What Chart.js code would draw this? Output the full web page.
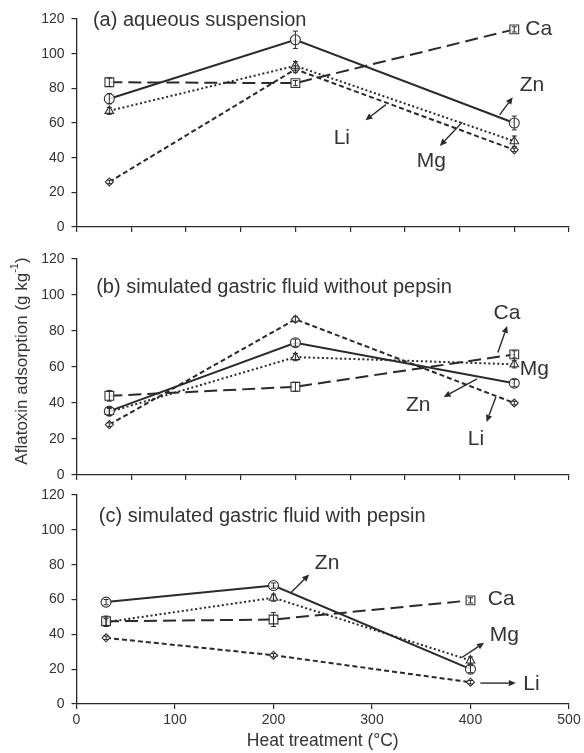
<!DOCTYPE html>
<html><head><meta charset="utf-8">
<script src="https://cdn.jsdelivr.net/npm/chart.js@4.4.1/dist/chart.umd.min.js"></script>
<style>
html,body{margin:0;padding:0;background:#fff;}
#wrap{position:relative;width:584px;height:753px;background:#fff;}
canvas{position:absolute;left:0;}
</style></head><body>
<div id="wrap">
<canvas id="ca" width="584" height="235" style="top:0px"></canvas>
<canvas id="cb" width="584" height="250" style="top:235px"></canvas>
<canvas id="cc" width="584" height="268" style="top:485px"></canvas>
</div>
<script>
// ---------------- DATA ----------------
const temps = [30, 200, 400];
const yTicks = [0, 20, 40, 60, 80, 100, 120];
const xTicksC = [0, 100, 200, 300, 400, 500];
// (a) aqueous suspension
const caA = [83.5, 83, 114];
const znA = [74, 108, 60];
const mgA = [67, 93, 49.5];
const liA = [26, 91, 44.5];
const caAerr = [2.5, 1.5, 1.5];
const znAerr = [3, 5, 4];
const mgAerr = [2, 2.5, 3];
const liAerr = [1, 2, 1];
// (b) simulated gastric fluid without pepsin
const caB = [44, 49, 67];
const znB = [35.5, 73.5, 51];
const mgB = [35, 65.5, 61.5];
const liB = [28, 86.5, 40];
const caBerr = [3, 2.5, 2];
const znBerr = [2, 2, 2];
const mgBerr = [2, 2, 2];
const liBerr = [1, 1.5, 1];
// (c) simulated gastric fluid with pepsin
const caC = [47.5, 48.5, 59.5];
const znC = [58.5, 68, 20];
const mgC = [47, 61, 25];
const liC = [38, 28, 12.5];
const caCerr = [3, 4, 1.5];
const znCerr = [1.5, 1.5, 2];
const mgCerr = [2, 2, 2];
const liCerr = [1, 1, 1];

const panelTitles = ['(a) aqueous suspension', '(b) simulated gastric fluid without pepsin', '(c) simulated gastric fluid with pepsin'];
const yAxisTitle = 'Aflatoxin adsorption (g kg';
const yAxisSup = '-1';
const xAxisTitle = 'Heat treatment (\u00B0C)';

// ---------------- ANNOTATION PLACEMENT (data coords) ----------------
const notesA = [
  {t:'Ca', x:410, y:114.3}, {t:'Zn', x:405, y:82}, {t:'Li', x:235, y:51.5}, {t:'Mg', x:311, y:38}
];
const arrowsA = [[386.6,64.7,398.6,74.9],[282.7,70.6,264,61.6],[352.6,60.5,332,46.8]];
const notesB = [
  {t:'Ca', x:381, y:90}, {t:'Mg', x:405, y:59}, {t:'Zn', x:301, y:38.5}, {t:'Li', x:357.5, y:19.8}
];
const arrowsB = [[385,68,393.5,82.8],[366,53.4,335.5,43.3],[383.2,43.3,374.7,29.5]];
const notesC = [
  {t:'Zn', x:242, y:81}, {t:'Ca', x:417.5, y:60}, {t:'Mg', x:419.5, y:39.6}, {t:'Li', x:453.5, y:11.4}
];
const arrowsC = [[217.3,63.8,236.2,74.3],[391.2,26.7,413.8,35.2],[410,12,446,12]];

// ---------------- STYLE ----------------
const FONT = '"Liberation Sans", Arial, Helvetica, sans-serif';
const INK = '#2a2a2a';
const TXT = '#333333';
const seriesStyle = {
  Ca: {dash:[13,6], pt:'rect', r:6.2},
  Zn: {dash:[], pt:'circle', r:5},
  Mg: {dash:[2,2.5], pt:'triangle', r:5},
  Li: {dash:[5,3], pt:'rectRot', r:4}
};

function arrow(ctx, x1, y1, x2, y2) {
  ctx.save();
  ctx.strokeStyle = INK; ctx.fillStyle = INK; ctx.lineWidth = 1.4; ctx.setLineDash([]);
  const a = Math.atan2(y2 - y1, x2 - x1);
  const L = 7, W = 3.2;
  const bx = x2 - L * Math.cos(a), by = y2 - L * Math.sin(a);
  ctx.beginPath(); ctx.moveTo(x1, y1); ctx.lineTo(bx, by); ctx.stroke();
  ctx.beginPath();
  ctx.moveTo(x2, y2);
  ctx.lineTo(bx + W * Math.sin(a), by - W * Math.cos(a));
  ctx.lineTo(bx - W * Math.sin(a), by + W * Math.cos(a));
  ctx.closePath(); ctx.fill();
  ctx.restore();
}

const overlay = {
  id: 'overlay',
  afterDatasetsDraw(chart, args, o) {
    const ctx = chart.ctx, xs = chart.scales.x, ys = chart.scales.y;
    // error bars
    ctx.save();
    ctx.strokeStyle = INK; ctx.lineWidth = 1; ctx.setLineDash([]);
    o.errs.forEach((err, si) => {
      err.forEach((e, i) => {
        const v = chart.data.datasets[si].data[i];
        const px = xs.getPixelForValue(v.x);
        const t = ys.getPixelForValue(v.y + e), b = ys.getPixelForValue(v.y - e);
        ctx.beginPath();
        ctx.moveTo(px, t); ctx.lineTo(px, b);
        ctx.moveTo(px - 2.5, t); ctx.lineTo(px + 2.5, t);
        ctx.moveTo(px - 2.5, b); ctx.lineTo(px + 2.5, b);
        ctx.stroke();
      });
    });
    ctx.restore();
    // panel title
    ctx.save();
    ctx.fillStyle = TXT; ctx.textBaseline = 'middle'; ctx.textAlign = 'left';
    ctx.font = '20px ' + FONT;
    ctx.fillText(o.title, xs.getPixelForValue(o.titleX), ys.getPixelForValue(o.titleY));
    // labels
    ctx.font = '21px ' + FONT;
    o.notes.forEach(n => ctx.fillText(n.t, xs.getPixelForValue(n.x), ys.getPixelForValue(n.y)));
    ctx.restore();
    o.arrows.forEach(a => arrow(ctx, xs.getPixelForValue(a[0]), ys.getPixelForValue(a[1]), xs.getPixelForValue(a[2]), ys.getPixelForValue(a[3])));
    // y axis title (panel b only)
    if (o.yTitle) {
      ctx.save();
      ctx.fillStyle = TXT;
      ctx.translate(22, o.yTitleCenter);
      ctx.rotate(-Math.PI / 2);
      ctx.font = '17px ' + FONT;
      const w1 = ctx.measureText(yAxisTitle).width;
      ctx.font = '11px ' + FONT;
      const w2 = ctx.measureText(yAxisSup).width;
      ctx.font = '17px ' + FONT;
      const w3 = ctx.measureText(')').width;
      const total = w1 + w2 + w3;
      let x0 = -total / 2;
      ctx.textBaseline = 'middle'; ctx.textAlign = 'left';
      ctx.fillText(yAxisTitle, x0, 0);
      ctx.font = '11px ' + FONT;
      ctx.fillText(yAxisSup, x0 + w1, -7);
      ctx.font = '17px ' + FONT;
      ctx.fillText(')', x0 + w1 + w2, 0);
      ctx.restore();
    }
  }
};

function makePanel(id, cfg) {
  const el = document.getElementById(id);
  const H = el.height;
  const names = ['Ca', 'Zn', 'Mg', 'Li'];
  const datasets = cfg.series.map((vals, i) => {
    const s = seriesStyle[names[i]];
    return {
      label: names[i],
      data: temps.map((t, k) => ({x: t, y: vals[k]})),
      borderColor: INK, borderWidth: 2, borderDash: s.dash,
      pointStyle: s.pt, pointRadius: s.r, pointBorderWidth: 1.1,
      pointBorderColor: '#333', pointBackgroundColor: 'rgba(255,255,255,0.85)',
      tension: 0, fill: false
    };
  });
  return new Chart(el, {
    type: 'line',
    data: {datasets},
    options: {
      responsive: false, animation: false, devicePixelRatio: 1,
      layout: {padding: {top: cfg.top, right: 15, left: 0, bottom: 0}},
      plugins: {legend: {display: false}, tooltip: {enabled: false}, overlay: cfg.overlay},
      scales: {
        x: {
          type: 'linear', min: 0, max: cfg.xMax,
          afterBuildTicks: s => { s.ticks = cfg.xTickVals.map(v => ({value: v})); },
          ticks: {
            callback: v => cfg.xLabels ? String(v) : '',
            font: {family: FONT, size: 14}, color: TXT, padding: 3, maxRotation: 0, autoSkip: false
          },
          grid: {display: true, drawOnChartArea: false, drawTicks: true, tickLength: 5, color: INK, lineWidth: 1.2},
          border: {display: true, color: INK, width: 1.3},
          title: cfg.xLabels ? {display: true, text: xAxisTitle, font: {family: FONT, size: 17.5}, color: TXT, padding: {top: 0, bottom: 1}} : {display: false},
          afterFit: s => { s.height = H - cfg.bottom; s.paddingLeft = 0; s.paddingRight = 0; }
        },
        y: {
          min: 0, max: 120,
          afterBuildTicks: s => { s.ticks = yTicks.map(v => ({value: v})); },
          ticks: {font: {family: FONT, size: 14}, color: TXT, padding: 7},
          grid: {display: true, drawOnChartArea: false, drawTicks: true, tickLength: 5, color: INK, lineWidth: 1.2},
          border: {display: true, color: INK, width: 1.3},
          afterFit: s => { s.width = 76.5; s.paddingTop = 0; s.paddingBottom = 0; }
        }
      }
    },
    plugins: [overlay]
  });
}

const ticks450 = [0, 50, 100, 150, 200, 250, 300, 350, 400, 450];

makePanel('ca', {
  top: 19, bottom: 227, xMax: 450, xTickVals: ticks450, xLabels: false,
  series: [caA, znA, mgA, liA],
  overlay: {errs: [caAerr, znAerr, mgAerr, liAerr], title: panelTitles[0], titleX: 15, titleY: 119,
            notes: notesA, arrows: arrowsA}
});
makePanel('cb', {
  top: 24, bottom: 240, xMax: 450, xTickVals: ticks450, xLabels: false,
  series: [caB, znB, mgB, liB],
  overlay: {errs: [caBerr, znBerr, mgBerr, liBerr], title: panelTitles[1], titleX: 18, titleY: 104,
            notes: notesB, arrows: arrowsB, yTitle: true, yTitleCenter: 126}
});
makePanel('cc', {
  top: 10, bottom: 219, xMax: 500, xTickVals: xTicksC, xLabels: true,
  series: [caC, znC, mgC, liC],
  overlay: {errs: [caCerr, znCerr, mgCerr, liCerr], title: panelTitles[2], titleX: 22.7, titleY: 107.5,
            notes: notesC, arrows: arrowsC}
});
</script>
</body></html>
